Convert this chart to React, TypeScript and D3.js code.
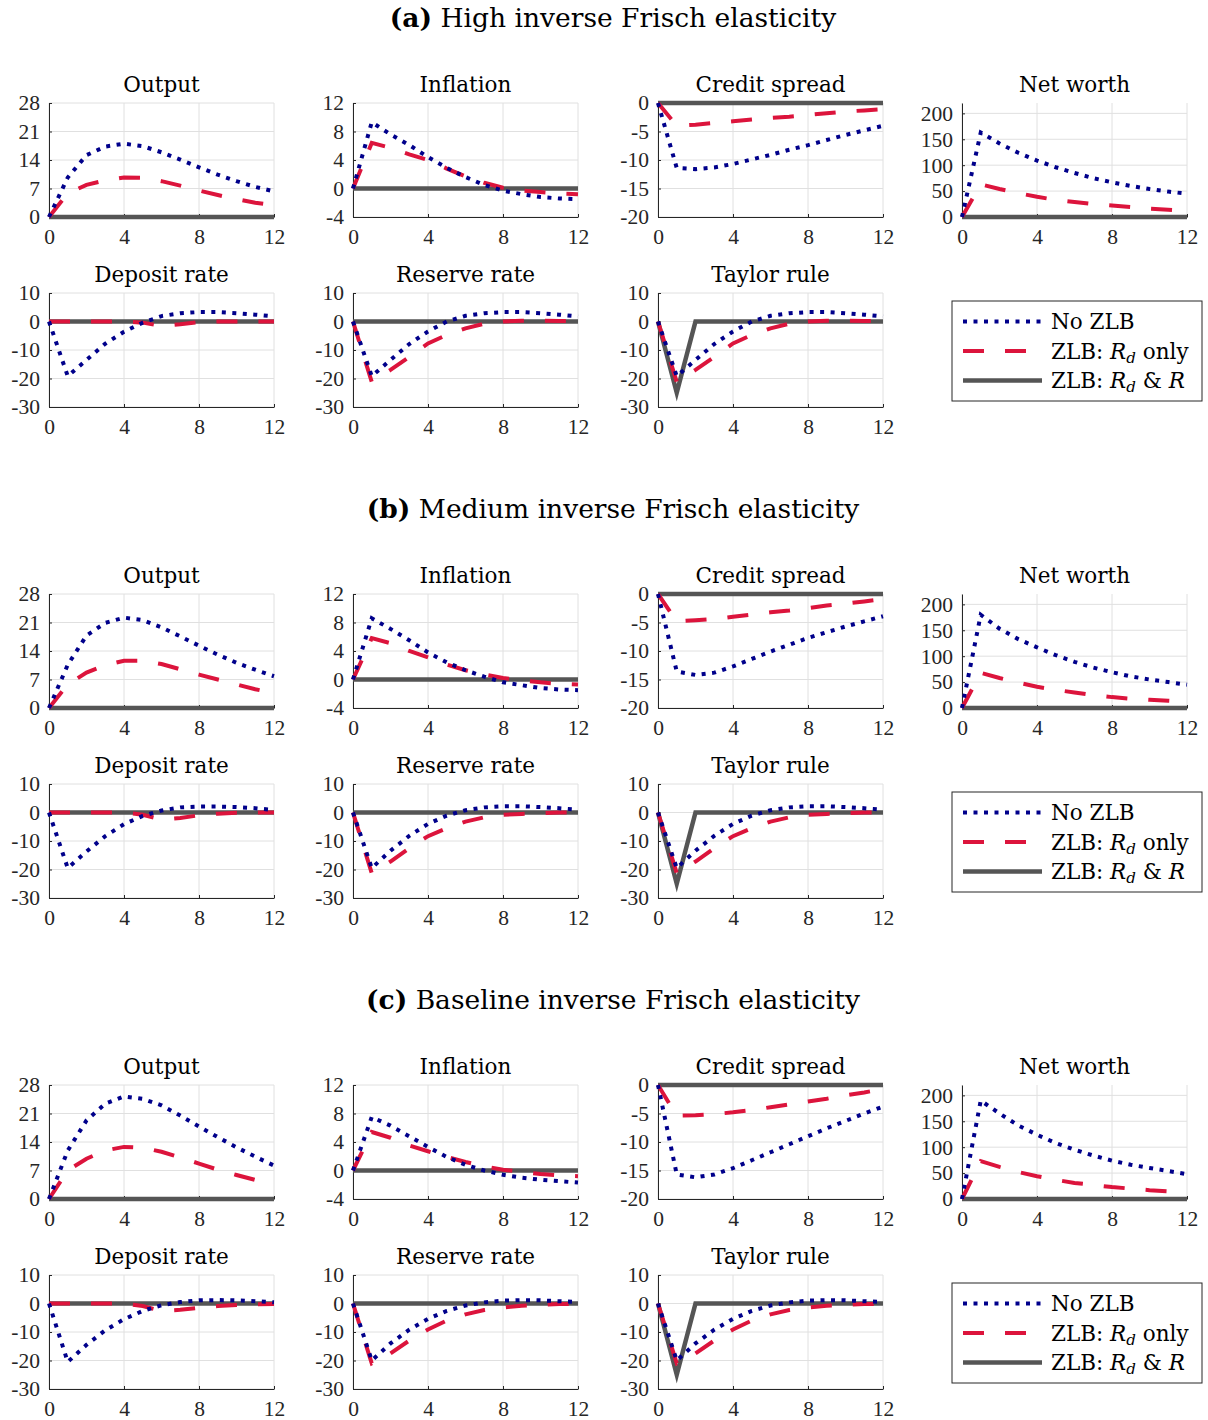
import React, { useEffect, useRef } from "react";
import * as d3 from "d3";

// quarters after the shock
const quarters = [0, 1, 2, 3, 4, 5, 6, 7, 8, 9, 10, 11, 12];
const xTicks = [0, 4, 8, 12];

const outputTicks = [0, 7, 14, 21, 28];
const inflationTicks = [-4, 0, 4, 8, 12];
const spreadTicks = [-20, -15, -10, -5, 0];
const netWorthTicks = [0, 50, 100, 150, 200];
const rateTicks = [-30, -20, -10, 0, 10];

// (a) high inverse Frisch elasticity
const outputA_none = [0, 9.7, 15.2, 17.3, 18.0, 17.4, 15.9, 14.1, 12.2, 10.4, 8.8, 7.4, 6.3];
const outputA_rd = [0, 5.8, 7.9, 9.0, 9.7, 9.6, 8.8, 7.7, 6.5, 5.4, 4.4, 3.5, 2.9];
const inflA_none = [0, 9.3, 7.6, 6.1, 4.4, 2.9, 1.6, 0.5, -0.3, -0.8, -1.2, -1.4, -1.5];
const inflA_rd = [0, 6.4, 5.7, 4.8, 4.0, 2.8, 1.7, 0.8, 0.1, -0.3, -0.5, -0.7, -0.8];
const spreadA_none = [0, -11.4, -11.6, -11.3, -10.7, -9.9, -9.1, -8.2, -7.4, -6.5, -5.6, -4.8, -4.0];
const spreadA_rd = [0, -4.0, -3.8, -3.5, -3.2, -2.9, -2.6, -2.4, -2.1, -1.8, -1.5, -1.3, -1.1];
const netA_none = [0, 163, 142, 124, 109, 96, 85, 75, 67, 60, 54, 49, 45];
const netA_rd = [0, 63, 54, 46, 39, 33, 29, 25, 22, 19, 16, 14, 12];
const depA_none = [0, -19.2, -13.5, -7.8, -3.6, -0.4, 1.9, 2.9, 3.3, 3.3, 2.9, 2.4, 1.8];
const depA_rd = [0, 0, 0, 0, 0, -0.4, -1.6, -1.0, -0.2, 0, 0, 0, 0];
const resA_none = [0, -19.2, -13.5, -7.9, -3.5, 0.0, 2.0, 2.9, 3.3, 3.3, 2.9, 2.4, 1.8];
const resA_rd = [0, -21.2, -17.0, -12.4, -7.7, -4.7, -2.4, -0.8, 0, 0.3, 0.3, 0.2, 0.1];

// (b) medium inverse Frisch elasticity
const outputB_none = [0, 10.6, 17.8, 20.9, 22.2, 21.6, 19.8, 17.6, 15.3, 13.1, 11.1, 9.4, 7.8];
const outputB_rd = [0, 5.8, 8.7, 10.5, 11.6, 11.6, 10.8, 9.5, 8.2, 7.0, 5.8, 4.6, 3.7];
const inflB_none = [0, 8.6, 7.1, 5.5, 3.8, 2.4, 1.3, 0.4, -0.4, -0.8, -1.2, -1.4, -1.5];
const inflB_rd = [0, 5.8, 5.1, 4.0, 3.1, 2.1, 1.3, 0.7, 0.2, -0.1, -0.4, -0.6, -0.7];
const spreadB_none = [0, -13.6, -14.2, -13.8, -12.7, -11.4, -10.1, -8.9, -7.7, -6.7, -5.7, -4.8, -3.9];
const spreadB_rd = [0, -4.8, -4.6, -4.4, -4.0, -3.6, -3.2, -2.9, -2.5, -2.0, -1.7, -1.3, -0.9];
const netB_none = [0, 180, 153, 133, 117, 102, 89, 78, 69, 61, 55, 50, 45];
const netB_rd = [0, 68, 58, 49, 41, 35, 30, 25, 21, 18, 16, 14, 12];
const depB_none = [0, -19.5, -13.7, -8.3, -4.1, -1.2, 0.7, 1.8, 2.1, 2.1, 1.9, 1.5, 0.9];
const depB_rd = [0, 0, 0, 0, 0, -0.8, -2.5, -1.9, -1.0, -0.4, -0.1, 0, 0];
const resB_none = [0, -19.5, -13.4, -8.2, -4.0, -1.1, 0.8, 1.8, 2.2, 2.2, 1.9, 1.5, 1.0];
const resB_rd = [0, -21.3, -17.2, -12.5, -8.3, -5.5, -3.2, -1.7, -0.8, -0.5, -0.2, 0, 0];

// (c) baseline inverse Frisch elasticity
const outputC_none = [0, 11.9, 19.3, 23.4, 25.2, 24.6, 23.0, 20.5, 17.8, 15.2, 12.7, 10.4, 8.2];
const outputC_rd = [0, 7.0, 9.9, 11.9, 12.8, 12.6, 11.6, 10.2, 8.7, 7.2, 5.9, 4.7, 3.7];
const inflC_none = [0, 7.5, 6.3, 4.8, 3.3, 1.9, 0.8, 0, -0.6, -1.0, -1.3, -1.5, -1.7];
const inflC_rd = [0, 5.4, 4.6, 3.5, 2.7, 1.9, 1.2, 0.6, 0.1, -0.2, -0.5, -0.7, -0.8];
const spreadC_none = [0, -15.7, -16.2, -15.7, -14.6, -13.2, -11.8, -10.4, -9.0, -7.6, -6.3, -5.0, -3.8];
const spreadC_rd = [0, -5.4, -5.3, -5.1, -4.8, -4.4, -3.9, -3.4, -2.9, -2.4, -1.8, -1.3, -0.7];
const netC_none = [0, 190, 165, 142, 124, 108, 95, 84, 74, 66, 60, 54, 48];
const netC_rd = [0, 73, 62, 52, 44, 37, 31, 27, 23, 20, 17, 15, 13];
const depC_none = [0, -20.5, -14.5, -9.4, -5.5, -2.6, -0.6, 0.5, 1.1, 1.2, 1.1, 0.8, 0.4];
const depC_rd = [0, 0, 0, 0, 0, -0.9, -2.6, -2.2, -1.5, -0.9, -0.5, -0.3, -0.2];
const resC_none = [0, -20.0, -14.0, -9.2, -5.4, -2.6, -0.7, 0.4, 1.0, 1.2, 1.1, 0.8, 0.5];
const resC_rd = [0, -21.0, -17.5, -13.0, -9.1, -6.0, -3.8, -2.3, -1.4, -0.8, -0.4, -0.2, -0.1];

// ZLB on both rates: flat at zero, except the Taylor rule rate itself
const bothZero = [0, 0, 0, 0, 0, 0, 0, 0, 0, 0, 0, 0, 0];
const bothTaylor = [0, -25, 0, 0, 0, 0, 0, 0, 0, 0, 0, 0, 0];

const sectionLabels = ["(a)", "(b)", "(c)"];
const sectionTitles = [
  "High inverse Frisch elasticity",
  "Medium inverse Frisch elasticity",
  "Baseline inverse Frisch elasticity",
];
const panelTitles = ["Output", "Inflation", "Credit spread", "Net worth", "Deposit rate", "Reserve rate", "Taylor rule"];
const panelTicks = [outputTicks, inflationTicks, spreadTicks, netWorthTicks, rateTicks, rateTicks, rateTicks];
const panelDomains = [[0, 28], [-4, 12], [-20, 0], [0, 220], [-30, 10], [-30, 10], [-30, 10]];

const sections = [
  [
    [outputA_none, outputA_rd, bothZero],
    [inflA_none, inflA_rd, bothZero],
    [spreadA_none, spreadA_rd, bothZero],
    [netA_none, netA_rd, bothZero],
    [depA_none, depA_rd, bothZero],
    [resA_none, resA_rd, bothZero],
    [resA_none, resA_rd, bothTaylor],
  ],
  [
    [outputB_none, outputB_rd, bothZero],
    [inflB_none, inflB_rd, bothZero],
    [spreadB_none, spreadB_rd, bothZero],
    [netB_none, netB_rd, bothZero],
    [depB_none, depB_rd, bothZero],
    [resB_none, resB_rd, bothZero],
    [resB_none, resB_rd, bothTaylor],
  ],
  [
    [outputC_none, outputC_rd, bothZero],
    [inflC_none, inflC_rd, bothZero],
    [spreadC_none, spreadC_rd, bothZero],
    [netC_none, netC_rd, bothZero],
    [depC_none, depC_rd, bothZero],
    [resC_none, resC_rd, bothZero],
    [resC_none, resC_rd, bothTaylor],
  ],
];

const seriesStyle = [
  { color: "#00008b", width: 4, dash: "4 6.5" },
  { color: "#dc143c", width: 4, dash: "21 21" },
  { color: "#555555", width: 4.5, dash: null },
];

const W = 1208;
const H = 1420;
const colX = [49, 353, 658, 962];
const rowY = [103, 293];
const plotW = 225;
const plotH = 114;
const sectionStep = 491;

const titleFont = "'DejaVu Serif', serif";
const tickFont = "'Liberation Serif', serif";
const axisColor = "#262626";
const gridColor = "#e0e0e0";

export default function App() {
  const ref = useRef<SVGSVGElement>(null);

  useEffect(() => {
    const svg = d3.select(ref.current);
    svg.selectAll("*").remove();
    svg.append("rect").attr("width", W).attr("height", H).attr("fill", "white");

    const x = d3.scaleLinear().domain([0, 12]).range([0, plotW]);

    sections.forEach((panels, s) => {
      const top = s * sectionStep;

      const head = svg
        .append("text")
        .attr("x", 613)
        .attr("y", top + 27)
        .attr("text-anchor", "middle")
        .attr("font-family", titleFont)
        .attr("font-size", 26.5)
        .attr("fill", "#000");
      head.append("tspan").attr("font-weight", "bold").text(sectionLabels[s]);
      head.append("tspan").text(" " + sectionTitles[s]);

      panels.forEach((series, p) => {
        const row = p < 4 ? 0 : 1;
        const col = p < 4 ? p : p - 4;
        const y = d3.scaleLinear().domain(panelDomains[p]).range([plotH, 0]);
        const g = svg.append("g").attr("transform", `translate(${colX[col]},${top + rowY[row]})`);

        // grid
        g.append("g")
          .selectAll("line")
          .data(xTicks)
          .join("line")
          .attr("x1", d => x(d))
          .attr("x2", d => x(d))
          .attr("y1", 0)
          .attr("y2", plotH)
          .attr("stroke", gridColor);
        g.append("g")
          .selectAll("line")
          .data(panelTicks[p])
          .join("line")
          .attr("x1", 0)
          .attr("x2", plotW)
          .attr("y1", d => y(d))
          .attr("y2", d => y(d))
          .attr("stroke", gridColor);

        // axes
        const yAxis = g
          .append("g")
          .call(d3.axisLeft(y).tickValues(panelTicks[p]).tickSizeInner(-3).tickSizeOuter(0).tickPadding(9).tickFormat(d3.format("d")));
        const xAxis = g
          .append("g")
          .attr("transform", `translate(0,${plotH})`)
          .call(d3.axisBottom(x).tickValues(xTicks).tickSizeInner(-3).tickSizeOuter(0).tickPadding(12));
        [yAxis, xAxis].forEach(a => {
          a.attr("font-family", tickFont).attr("font-size", 21.5);
          a.select(".domain").attr("stroke", axisColor);
          a.selectAll(".tick line").attr("stroke", axisColor);
          a.selectAll(".tick text").attr("fill", axisColor);
        });
        yAxis.selectAll(".tick text").text((d: any) => String(d).replace("−", "-"));

        // title
        g.append("text")
          .attr("x", plotW / 2)
          .attr("y", -11)
          .attr("text-anchor", "middle")
          .attr("font-family", titleFont)
          .attr("font-size", 21.5)
          .attr("fill", "#000")
          .text(panelTitles[p]);

        const line = d3
          .line<number>()
          .x((d, i) => x(quarters[i]))
          .y(d => y(d));

        [2, 1, 0].forEach(k => {
          const st = seriesStyle[k];
          g.append("path")
            .datum(series[k])
            .attr("d", line)
            .attr("fill", "none")
            .attr("stroke", st.color)
            .attr("stroke-width", st.width)
            .attr("stroke-dasharray", st.dash)
            .attr("stroke-linejoin", "miter");
        });
      });

      // legend
      const lg = svg.append("g").attr("transform", `translate(952,${top + 301})`);
      lg.append("rect")
        .attr("width", 250)
        .attr("height", 100)
        .attr("fill", "white")
        .attr("stroke", axisColor)
        .attr("stroke-width", 1);
      const rowsY = [20.5, 50, 79.5];
      seriesStyle.forEach((st, i) => {
        lg.append("line")
          .attr("x1", 11)
          .attr("x2", 90)
          .attr("y1", rowsY[i])
          .attr("y2", rowsY[i])
          .attr("stroke", st.color)
          .attr("stroke-width", st.width)
          .attr("stroke-dasharray", st.dash);
        const t = lg
          .append("text")
          .attr("x", 99)
          .attr("y", rowsY[i] + 7.5)
          .attr("font-family", titleFont)
          .attr("font-size", 21.5)
          .attr("fill", "#000");
        if (i === 0) {
          t.text("No ZLB");
        } else {
          t.append("tspan").text("ZLB: ");
          t.append("tspan").attr("font-style", "italic").text("R");
          t.append("tspan").attr("font-style", "italic").attr("font-size", 15).attr("dy", 4).text("d");
          if (i === 1) {
            t.append("tspan").attr("dy", -4).text(" only");
          } else {
            t.append("tspan").attr("dy", -4).text(" & ");
            t.append("tspan").attr("font-style", "italic").text("R");
          }
        }
      });
    });
  }, []);

  return <svg ref={ref} width={W} height={H} style={{ position: "absolute", left: 0, top: 0 }} />;
}
